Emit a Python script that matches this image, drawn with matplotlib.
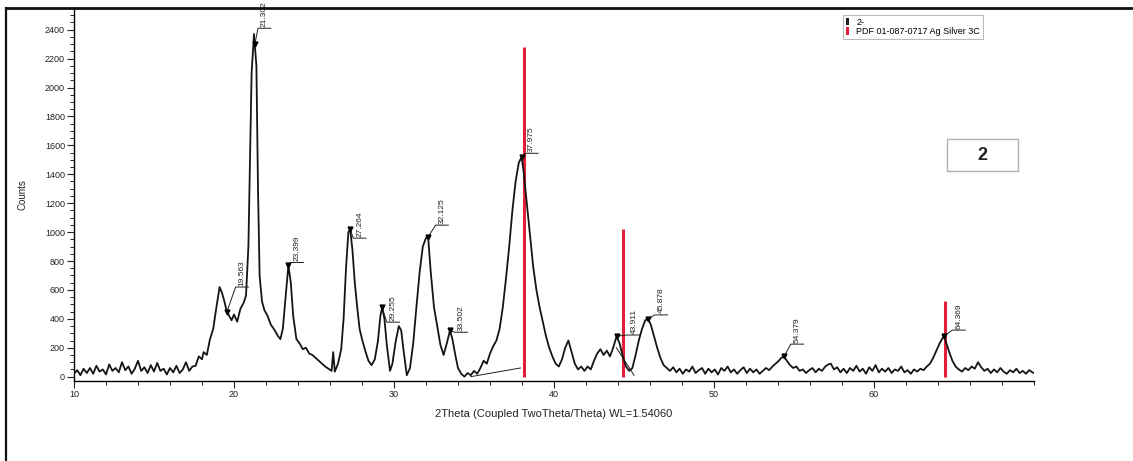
import matplotlib
matplotlib.use("Agg")
import matplotlib.pyplot as plt
from matplotlib.lines import Line2D
from matplotlib.patches import Patch, Rectangle
from matplotlib.ticker import MultipleLocator

plt.rcParams['font.family'] = ['Liberation Sans', 'DejaVu Sans']

two_theta = [
    10.0, 10.2, 10.4, 10.6, 10.8, 11.0, 11.2, 11.4, 11.6, 11.8, 12.0, 12.2, 12.4, 12.6, 12.8,
    13.0, 13.2, 13.4, 13.6, 13.8, 14.0, 14.2, 14.4, 14.6, 14.8, 15.0, 15.2, 15.4, 15.6, 15.8,
    16.0, 16.2, 16.4, 16.6, 16.8, 17.0, 17.2, 17.4, 17.6, 17.8, 18.0, 18.1, 18.3, 18.5, 18.7,
    18.9, 19.1, 19.25, 19.4, 19.55, 19.7, 19.85, 20.0, 20.2, 20.4, 20.6, 20.75, 20.9, 21.0, 21.1,
    21.25, 21.4, 21.5, 21.6, 21.75, 21.9, 22.1, 22.3, 22.55, 22.75, 22.9, 23.05, 23.2, 23.4, 23.55,
    23.7, 23.9, 24.1, 24.3, 24.5, 24.7, 24.9, 25.1, 25.3, 25.5, 25.7, 25.9, 26.1, 26.2, 26.3,
    26.5, 26.7, 26.85, 27.0, 27.15, 27.26, 27.4, 27.55, 27.7, 27.85, 28.0, 28.2, 28.4, 28.6, 28.8,
    29.0, 29.15, 29.26, 29.4, 29.55, 29.75, 29.9, 30.1, 30.3, 30.45, 30.6, 30.8, 31.0, 31.2, 31.4,
    31.6, 31.8, 32.0, 32.13, 32.3, 32.5, 32.7, 32.9, 33.1, 33.3, 33.5, 33.65, 33.85, 34.0, 34.2,
    34.4, 34.6, 34.8, 35.0, 35.2, 35.4, 35.6, 35.8, 36.0, 36.2, 36.4, 36.6, 36.8, 37.0, 37.2,
    37.4, 37.6, 37.8, 37.975, 38.1, 38.3, 38.5, 38.7, 38.9, 39.1, 39.3, 39.5, 39.7, 39.9, 40.1,
    40.3, 40.5, 40.7, 40.9, 41.1, 41.3, 41.5, 41.7, 41.9, 42.1, 42.3, 42.5, 42.7, 42.9, 43.1,
    43.3, 43.5, 43.7, 43.911, 44.1, 44.3, 44.5, 44.7, 44.9, 45.1, 45.3, 45.5, 45.7, 45.878, 46.05,
    46.25, 46.45, 46.65, 46.85, 47.05, 47.25, 47.45, 47.65, 47.85, 48.05, 48.25, 48.45, 48.65, 48.85, 49.05,
    49.25, 49.45, 49.65, 49.85, 50.05, 50.25, 50.45, 50.65, 50.85, 51.05, 51.25, 51.45, 51.65, 51.85, 52.05,
    52.25, 52.45, 52.65, 52.85, 53.05, 53.25, 53.45, 53.65, 53.85, 54.05, 54.2, 54.379, 54.55, 54.75, 54.95,
    55.15, 55.35, 55.55, 55.75, 55.95, 56.15, 56.35, 56.55, 56.75, 56.95, 57.15, 57.3, 57.5, 57.7, 57.9,
    58.1, 58.3, 58.5, 58.7, 58.9, 59.1, 59.3, 59.5, 59.7, 59.9, 60.1, 60.3, 60.5, 60.7, 60.9,
    61.1, 61.3, 61.5, 61.7, 61.9, 62.1, 62.3, 62.5, 62.7, 62.9, 63.1, 63.3, 63.5, 63.7, 63.9,
    64.1, 64.25, 64.369, 64.5, 64.7, 64.9, 65.1, 65.3, 65.5, 65.7, 65.9, 66.1, 66.3, 66.5, 66.7,
    66.9, 67.1, 67.3, 67.5, 67.7, 67.9, 68.1, 68.3, 68.5, 68.7, 68.9, 69.1, 69.3, 69.5, 69.7,
    69.9, 70.0,
]
counts = [
    20, 45, 10, 55, 25, 60, 20, 75, 35, 50, 15, 85, 40, 60, 30,
    100, 45, 70, 20, 55, 110, 40, 65, 25, 80, 35, 95, 40, 55, 15,
    60, 30, 75, 25, 50, 100, 40, 70, 75, 140, 120, 170, 150, 260, 330,
    480, 620, 580, 520, 450, 420, 390, 430, 380, 470, 510, 560, 900, 1500, 2100,
    2370, 2150, 1300, 700, 520, 460, 420, 360, 320, 280, 260, 330, 520, 770, 650,
    420, 260, 230, 190, 200, 160, 150, 130, 110, 90, 70, 55, 40, 170, 35,
    90, 190, 400, 750, 1000, 1020, 880, 650, 480, 330, 260, 180, 110, 80, 120,
    250, 420, 480, 400, 220, 40, 90, 240, 350, 320, 180, 10, 60, 230, 480,
    720, 900, 960, 970, 720, 480, 350, 220, 150, 230, 320, 260, 140, 60, 20,
    0, 25, 10, 40, 20, 60, 110, 90, 160, 210, 250, 330, 480, 680, 900,
    1150, 1350, 1480, 1520, 1420, 1200, 980, 760, 600, 480, 380, 280, 200, 140, 90,
    70, 120, 200, 250, 170, 90, 50, 70, 40, 70, 50, 110, 160, 190, 150,
    180, 140, 200, 280, 230, 140, 70, 40, 60, 150, 250, 330, 390, 400, 360,
    280, 200, 130, 80, 60, 40, 65, 30, 55, 20, 50, 35, 70, 25, 45,
    60, 20, 55, 30, 50, 15, 60, 40, 70, 30, 50, 20, 45, 65, 25,
    55, 30, 50, 20, 40, 60, 45, 70, 90, 110, 130, 140, 110, 80, 60,
    70, 40, 50, 25, 45, 60, 30, 55, 40, 70, 85, 90, 50, 65, 30,
    55, 25, 60, 40, 75, 35, 55, 20, 65, 40, 80, 30, 55, 35, 60,
    25, 50, 40, 70, 30, 45, 20, 50, 35, 55, 45, 70, 90, 130, 180,
    230, 260, 280, 240, 170, 110, 70, 50, 35, 60, 45, 70, 55, 100, 65,
    40, 55, 25, 50, 30, 60, 35, 20, 45, 30, 55, 25, 40, 20, 45,
    30, 25,
]

# labelled peaks
peak_pos = [19.563, 21.302, 23.399, 27.264, 29.255, 32.125, 33.502, 37.975, 43.911, 45.878, 54.379, 64.369]
peak_cnt = [450, 2300, 770, 1020, 480, 965, 320, 1520, 280, 400, 140, 280]
peak_txt = ['19.563', '21.302', '23.399', '27.264', '29.255', '32.125', '33.502',
            '37.975', '43.911', '45.878', '54.379', '64.369']
# where each label's little shelf sits (2theta start, counts)
shelf_x = [20.1, 21.5, 23.55, 27.45, 29.55, 32.6, 33.8, 38.2, 44.6, 46.3, 54.8, 64.9]
shelf_y = [620, 2410, 790, 958, 377, 1048, 307, 1545, 288, 427, 225, 322]

# reference card PDF 01-087-0717 Ag
ref_pos = [38.12, 44.30, 64.44]
ref_cnt = [2280, 1020, 520]

fig = plt.figure(figsize=(11.33, 4.61), dpi=100)
ax = fig.add_axes([74 / 1133, 80 / 461, 960 / 1133, 373 / 461])

ax.plot(two_theta, counts, color='#151515', lw=1.3, zorder=3)
ax.vlines(ref_pos, 0, ref_cnt, color='#e0203a', lw=2.2, zorder=2)

# background segments drawn by the software under two peaks
ax.plot([34.8, 37.9], [0, 60], color='#202020', lw=0.7)
ax.plot([43.9, 45.0], [200, 10], color='#202020', lw=0.7)

ax.plot(peak_pos, peak_cnt, 'v', color='black', ms=3.5, zorder=4)
for px, py, sx, sy, t in zip(peak_pos, peak_cnt, shelf_x, shelf_y, peak_txt):
    ax.plot([px, sx, sx + 0.8], [py, sy, sy], color='#202020', lw=0.7, clip_on=False)
    ax.text(sx + 0.4, sy + 10, t, rotation=90, ha='center', va='bottom',
            fontsize=6, color='#202020', clip_on=False)

ax.set_xlim(10, 70)
ax.set_ylim(-30, 2550)
ax.set_xticks([10, 20, 30, 40, 50, 60])
ax.xaxis.set_minor_locator(MultipleLocator(2))
ax.set_yticks(range(0, 2401, 200))
ax.yaxis.set_minor_locator(MultipleLocator(50))
ax.tick_params(which='major', direction='out', length=5, width=0.8, labelsize=6.5,
               colors='#222222', pad=1.5)
ax.tick_params(which='minor', direction='out', length=3, width=0.7, colors='#222222')
for s in ['top', 'right']:
    ax.spines[s].set_visible(False)
for s in ['left', 'bottom']:
    ax.spines[s].set_linewidth(1.0)

ax.set_ylabel('Counts', fontsize=7, color='#222222')
ax.yaxis.set_label_coords(-46 / 960, 0.5)
ax.set_xlabel('2Theta (Coupled TwoTheta/Theta) WL=1.54060', fontsize=8, color='#222222')
ax.xaxis.set_label_coords(0.5, -28 / 373)

handles = [Patch(facecolor='#222222', edgecolor='none'), Patch(facecolor='#e0203a', edgecolor='none')]
leg = fig.legend(handles, ['2-', 'PDF 01-087-0717 Ag Silver 3C'], loc='upper left',
                 bbox_to_anchor=(843 / 1133, 1 - 15 / 461), fontsize=6.5, frameon=True,
                 fancybox=False, handlelength=0.35, handleheight=0.9, handletextpad=0.8,
                 labelspacing=0.05, borderpad=0.3, borderaxespad=0)
leg.get_frame().set_edgecolor('#aaaaaa')
leg.get_frame().set_linewidth(0.8)

# sample number box
fig.patches.append(Rectangle((947 / 1133, 1 - 171 / 461), 71 / 1133, 32 / 461,
                             transform=fig.transFigure, facecolor='white',
                             edgecolor='#b0b0b0', lw=1.0))
fig.text(982 / 1133, 1 - 155 / 461, '2', ha='center', va='center', fontsize=13,
         fontweight='bold', color='#222222')

# page frame
fig.add_artist(Line2D([6 / 1133, 1], [1 - 8 / 461, 1 - 8 / 461], color='#111111', lw=2.0,
                      transform=fig.transFigure))
fig.add_artist(Line2D([6 / 1133, 6 / 1133], [0, 1 - 8 / 461], color='#111111', lw=1.6,
                      transform=fig.transFigure))

fig.savefig('out.png', dpi=100)
